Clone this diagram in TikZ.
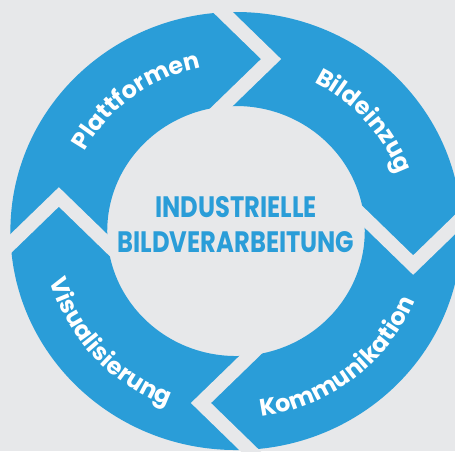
\documentclass[tikz,border=0pt]{standalone}
\usepackage{fontspec}
\usepackage{tikz}
\usetikzlibrary{decorations.text}
\newfontfamily\ringfont{Poppins}
\newfontfamily\titlefont[FakeStretch=0.82]{Poppins}
\definecolor{ringblue}{HTML}{2A9DD8}
\definecolor{bggray}{HTML}{E7E8EA}
\tikzset{gapline/.style={draw=bggray,line width=3.5mm,line join=miter}}
\newcommand{\gapcut}[1]{\draw[gapline] (99.4+#1:250.4) -- (78.8+#1:175.3) -- (112.9+#1:105.3);}
\newcommand{\ringlabel}[4]{\path[decorate,decoration={text along path,text align=center,text color=white,text={|\ringfont\bfseries\fontsize{17}{20}\selectfont|#4}}] (#1:#3) arc[start angle=#1,end angle=#2,radius=#3];}

\begin{document}
\begin{tikzpicture}[x=0.2575mm,y=0.25mm]
        % background
        \fill[bggray] (-229.1,-220) rectangle (212.6,231);
        \useasboundingbox (-229.1,-220) rectangle (212.6,231);
        \clip (-229.1,-220) rectangle (212.6,231);
        % ring
        \fill[ringblue,even odd rule] (0,0) circle[radius=219] (0,0) circle[radius=125];
        % gaps
        \gapcut{0}
        \gapcut{-90}
        \gapcut{-180}
        \gapcut{-270}
        % labels on top
        \ringlabel{172}{82}{167}{Plattformen}
        \ringlabel{86}{-4}{167}{Bildeinzug}
        % labels at bottom
        \ringlabel{-97}{-7}{187}{Kommunikation}
        \ringlabel{177}{267}{187}{Visualisierung}

        \node[font=\titlefont\bfseries\fontsize{21}{24.9}\selectfont,text=ringblue,align=center,inner sep=0pt] (title) at (0,6) {INDUSTRIELLE\\BILDVERARBEITUNG};
    \end{tikzpicture}
\end{document}
